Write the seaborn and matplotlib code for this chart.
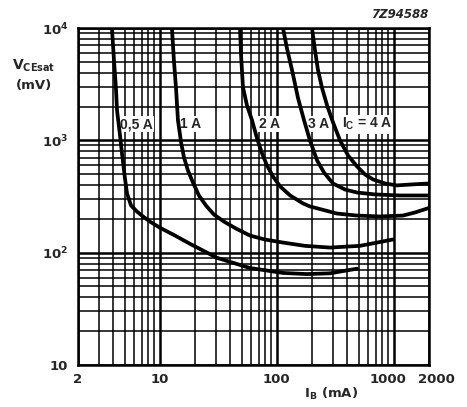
import numpy as np
import pandas as pd
import matplotlib
matplotlib.use("Agg")
import matplotlib.pyplot as plt
import seaborn as sns
from matplotlib.ticker import FixedLocator, LogLocator, NullFormatter
from matplotlib.transforms import ScaledTranslation

# ---- data (IB in mA, VCEsat in mV) ----
ib_05 = [3.90, 4.06, 4.22, 4.31, 4.57, 4.75, 5.04, 5.25, 5.68, 6.39, 7.19,
         8.25, 10.0, 13.5, 18.1, 30.8, 59, 113, 180, 285, 485]
vce_05 = [10000, 5180, 2910, 1850, 1110, 766, 458, 336, 263, 232, 210,
          189, 167, 142, 120, 90, 73, 66, 64.5, 65.5, 72]

ib_1 = [12.7, 13.2, 13.8, 14.3, 15.2, 16.1, 17.4, 19.2, 21.6, 24.8, 29.1,
        35.4, 44.8, 59, 79, 113, 174, 285, 514, 985]
vce_1 = [10000, 5180, 2800, 1510, 960, 705, 540, 422, 323, 263, 218,
         189, 164, 142, 131, 123, 115, 111, 115, 131]

ib_2 = [48.5, 49.5, 51.4, 55.6, 61.4, 67.8, 74.8, 82.5, 92.8, 107, 130,
        168, 192, 327, 485, 762, 1200, 1520, 2000]
vce_2 = [10000, 5740, 2970, 2050, 1510, 1040, 766, 598, 477, 388, 323,
         274, 258, 223, 214, 210, 214, 228, 250]

ib_3 = [113, 122, 135, 152, 171, 192, 221, 253, 302, 383, 485, 690, 1130, 2000]
vce_3 = [10000, 6630, 4220, 2370, 1510, 1000, 663, 518, 413, 365, 343, 330, 323, 323]

ib_4 = [200, 212, 225, 244, 269, 302, 347, 406, 485, 568, 664, 841, 1065, 1430, 2000]
vce_4 = [10000, 6360, 4220, 2910, 2050, 1450, 1000, 735, 586, 497, 449, 413, 397, 405, 413]

curve_names = ["0,5 A", "1 A", "2 A", "3 A", "4 A"]
label_texts = ["0,5 A", "1 A", "2 A", "3 A", r"I$_\mathregular{C}$ = 4 A"]
label_x = [6.3, 18.4, 87, 228, 590]
label_y = [1390, 1390, 1390, 1390, 1390]

x_ticks = [2, 10, 100, 1000, 2000]
x_ticklabels = ["2", "10", "100", "1000", "2000"]
y_ticks = [10, 100, 1000, 10000]
y_ticklabels = ["10", r"10$^\mathregular{2}$", r"10$^\mathregular{3}$", r"10$^\mathregular{4}$"]

frames = []
for name, xs, ys in zip(curve_names, [ib_05, ib_1, ib_2, ib_3, ib_4],
                        [vce_05, vce_1, vce_2, vce_3, vce_4]):
    frames.append(pd.DataFrame({"IB": xs, "VCE": ys, "IC": name}))
df = pd.concat(frames, ignore_index=True)

sns.set_theme(style="white")
plt.rcParams["font.family"] = ["DejaVu Sans"]
plt.rcParams["font.weight"] = "bold"
plt.rcParams["mathtext.fontset"] = "dejavusans"
plt.rcParams["mathtext.default"] = "bf"

W, H = 467, 407
fig = plt.figure(figsize=(W / 100, H / 100), dpi=100)
L, R, T, B = 78, 429, 28, 365
ax = fig.add_axes([L / W, 1 - B / H, (R - L) / W, (B - T) / H])

sns.lineplot(data=df, x="IB", y="VCE", hue="IC",
             palette={n: "black" for n in curve_names},
             estimator=None, sort=False, legend=False,
             linewidth=2.7, ax=ax, zorder=5)

ax.set_xscale("log")
ax.set_yscale("log")
ax.set_xlim(2, 2000)
ax.set_ylim(10, 10000)

ax.xaxis.set_major_locator(FixedLocator(x_ticks))
ax.xaxis.set_ticklabels(x_ticklabels)
ax.yaxis.set_major_locator(FixedLocator(y_ticks))
ax.yaxis.set_ticklabels(y_ticklabels)
ax.xaxis.set_minor_locator(LogLocator(base=10, subs=np.arange(2, 10)))
ax.yaxis.set_minor_locator(LogLocator(base=10, subs=np.arange(2, 10)))
ax.xaxis.set_minor_formatter(NullFormatter())
ax.yaxis.set_minor_formatter(NullFormatter())

ax.grid(which="minor", color="black", linewidth=1.1)
ax.grid(which="major", color="black", linewidth=1.8)
ax.set_axisbelow(True)
ax.tick_params(which="both", length=0)
ax.tick_params(axis="x", pad=6, labelsize=9.5)
ax.tick_params(axis="y", pad=7, labelsize=9.5)
for lab in ax.get_xticklabels() + ax.get_yticklabels():
    lab.set_fontweight("bold")
for s in ax.spines.values():
    s.set_color("black")
    s.set_linewidth(1.8)
ax.set_xlabel("")
ax.set_ylabel("")

# nudge the crowded 1000 / 2000 labels apart as in the reference
mticks = ax.xaxis.get_major_ticks()
mticks[3].label1.set_transform(mticks[3].label1.get_transform()
                               + ScaledTranslation(-6 / 100, 0, fig.dpi_scale_trans))
mticks[4].label1.set_transform(mticks[4].label1.get_transform()
                               + ScaledTranslation(7 / 100, 0, fig.dpi_scale_trans))

for t, x, y in zip(label_texts, label_x, label_y):
    ax.text(x, y, t, ha="center", va="center", fontsize=10, fontweight="bold",
            family=["Liberation Sans", "DejaVu Sans"], zorder=4,
            bbox=dict(facecolor="white", edgecolor="none", pad=0.8))

fig.text(12 / W, 1 - 70 / H, r"V$_\mathregular{CEsat}$", fontsize=10,
         fontweight="bold", ha="left", va="baseline")
fig.text(16 / W, 1 - 89 / H, "(mV)", fontsize=9.5, fontweight="bold",
         ha="left", va="baseline")
fig.text(331 / W, 1 - 398 / H, r"I$_\mathregular{B}$ (mA)", fontsize=9.5,
         fontweight="bold", ha="center", va="baseline")
fig.text(428 / W, 1 - 18 / H, "7Z94588", fontsize=8.5, fontweight="bold",
         style="italic", ha="right", va="baseline")

fig.savefig("out.png", dpi=100, facecolor="white")
